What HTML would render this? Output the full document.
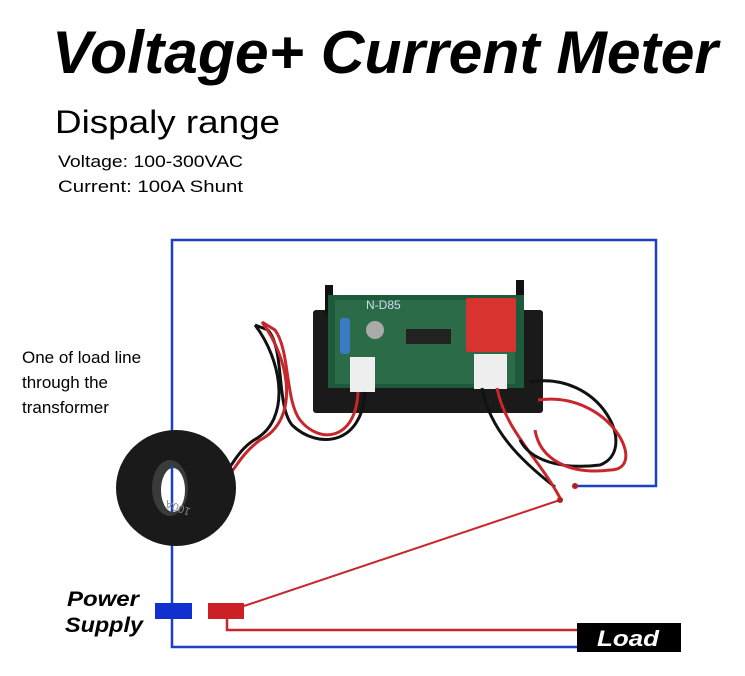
<!DOCTYPE html>
<html><head><meta charset="utf-8"><style>
html,body{margin:0;padding:0;background:#fff;}
svg{display:block;}
</style></head><body>
<svg width="745" height="676" viewBox="0 0 745 676" xmlns="http://www.w3.org/2000/svg" font-family="Liberation Sans, sans-serif">
<rect width="745" height="676" fill="#fff"/>
<text x="52" y="73" font-size="60" font-weight="bold" font-style="italic" textLength="666" lengthAdjust="spacingAndGlyphs">Voltage+ Current Meter</text>
<text x="55" y="133" font-size="32" textLength="225" lengthAdjust="spacingAndGlyphs">Dispaly range</text>
<text x="58" y="167" font-size="17" textLength="185" lengthAdjust="spacingAndGlyphs">Voltage:  100-300VAC</text>
<text x="58" y="192" font-size="17" textLength="185" lengthAdjust="spacingAndGlyphs">Current:  100A Shunt</text>
<text x="22" y="363" font-size="17">One of load line</text>
<text x="22" y="388" font-size="17">through the</text>
<text x="22" y="413" font-size="17">transformer</text>

<polyline points="573,486 656,486 656,240 172,240 172,647 577,647" fill="none" stroke="#1d3fc4" stroke-width="2.5"/>
<line x1="244" y1="606" x2="560" y2="500" stroke="#c8262b" stroke-width="2"/>
<polyline points="227,619 227,630 578,630" fill="none" stroke="#c8262b" stroke-width="2.5"/>
<circle cx="560" cy="500" r="3" fill="#b02020"/>
<circle cx="575" cy="486" r="3" fill="#b02020"/>

<rect x="313" y="310" width="230" height="103" rx="3" fill="#1a1a1a"/>
<rect x="325" y="285" width="8" height="30" fill="#111"/>
<rect x="516" y="280" width="8" height="35" fill="#111"/>
<rect x="328" y="295" width="196" height="93" fill="#1d5a3c"/>
<rect x="335" y="300" width="180" height="84" fill="#2b6b48"/>
<text x="366" y="309" font-size="12" fill="#cde">N-D85</text>
<rect x="466" y="298" width="50" height="54" rx="2" fill="#d7342f"/>
<rect x="340" y="318" width="10" height="36" rx="3" fill="#3a7cc4"/>
<circle cx="375" cy="330" r="9" fill="#aaa"/>
<rect x="406" y="329" width="45" height="15" fill="#222"/>
<rect x="350" y="357" width="25" height="35" fill="#eee"/>
<rect x="474" y="354" width="33" height="35" fill="#eee"/>

<path d="M358,392 C356,440 320,445 300,420 C285,400 290,350 275,330 L262,322" fill="none" stroke="#c8262b" stroke-width="3"/>
<path d="M365,392 C362,445 318,450 292,425 C276,405 285,350 268,330 L255,325" fill="none" stroke="#111" stroke-width="3"/>
<path d="M262,322 C290,360 300,420 260,440 C240,455 235,470 225,480" fill="none" stroke="#c8262b" stroke-width="3"/>
<path d="M255,325 C282,360 292,420 254,440 C236,452 232,468 222,476" fill="none" stroke="#111" stroke-width="3"/>
<path d="M482,388 C490,430 520,460 555,487" fill="none" stroke="#111" stroke-width="3"/>
<path d="M497,388 C505,430 540,460 560,498" fill="none" stroke="#c8262b" stroke-width="3"/>
<path d="M530,382 C600,370 640,450 600,465 C560,470 530,460 520,440" fill="none" stroke="#111" stroke-width="3"/>
<path d="M538,400 C610,390 650,470 610,470 C570,475 540,460 535,430" fill="none" stroke="#c8262b" stroke-width="3"/>

<ellipse cx="176" cy="488" rx="60" ry="58" fill="#1a1a1a"/>
<ellipse cx="170" cy="488" rx="18" ry="28" fill="#3a3a3a"/>
<ellipse cx="173" cy="490" rx="12" ry="22" fill="#fff"/>
<line x1="172" y1="466" x2="172" y2="512" stroke="#1d3fc4" stroke-width="2.5"/>
<text x="170" y="515" font-size="11" fill="#888" transform="rotate(200 180 510)">100A</text>

<text x="67" y="606" font-size="21" font-weight="bold" font-style="italic" textLength="72" lengthAdjust="spacingAndGlyphs">Power</text>
<text x="65" y="632" font-size="21" font-weight="bold" font-style="italic" textLength="78" lengthAdjust="spacingAndGlyphs">Supply</text>
<rect x="155" y="603" width="37" height="16" fill="#1030d0"/>
<rect x="208" y="603" width="36" height="16" fill="#cc1f26"/>
<rect x="577" y="623" width="104" height="29" fill="#000"/>
<text x="597" y="646" font-size="22" font-weight="bold" font-style="italic" fill="#fff" textLength="62" lengthAdjust="spacingAndGlyphs">Load</text>
</svg>
</body></html>
